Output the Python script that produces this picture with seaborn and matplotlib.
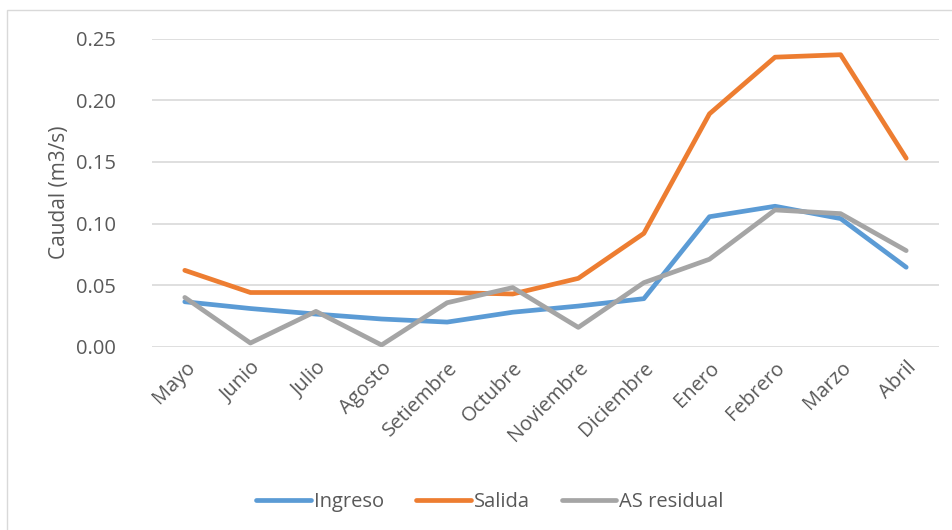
import pandas as pd
import seaborn as sns
import matplotlib.pyplot as plt
from matplotlib.patches import Rectangle

# meses del periodo
meses = ["Mayo", "Junio", "Julio", "Agosto", "Setiembre", "Octubre",
         "Noviembre", "Diciembre", "Enero", "Febrero", "Marzo", "Abril"]

# caudales (m3/s)
ingreso = [0.0365, 0.031, 0.0265, 0.0225, 0.020, 0.028,
           0.033, 0.039, 0.1055, 0.114, 0.104, 0.0645]
salida = [0.062, 0.044, 0.044, 0.044, 0.044, 0.0428,
          0.0555, 0.092, 0.189, 0.235, 0.237, 0.153]
as_residual = [0.040, 0.003, 0.0287, 0.0014, 0.0357, 0.048,
               0.0157, 0.052, 0.071, 0.111, 0.108, 0.078]

series = ["Ingreso", "Salida", "AS residual"]
colores = ["#5B9BD5", "#ED7D31", "#A5A5A5"]

# armando el dataframe en formato largo
myDF = pd.DataFrame({"Mes": meses * 3,
                     "Caudal": ingreso + salida + as_residual,
                     "Serie": [s for s in series for _ in meses]})
myDF["pos"] = list(range(len(meses))) * 3

sns.set_style("white")
plt.rcParams["font.family"] = ["Open Sans", "DejaVu Sans"]

fig = plt.figure(figsize=(9.53, 5.3), dpi=100)
ax = fig.add_axes([0.1595, 0.3458, 0.8258, 0.5812])

sns.lineplot(data=myDF, x="pos", y="Caudal", hue="Serie", hue_order=series,
             palette=colores, linewidth=3.4, ax=ax, legend=True)
for ln in ax.lines:
    ln.set_solid_capstyle("round")
    ln.set_solid_joinstyle("round")

ax.set_xlim(-0.5, len(meses) - 0.5)
ax.set_ylim(0, 0.25)
ax.set_yticks([0, 0.05, 0.10, 0.15, 0.20, 0.25])
ax.set_yticklabels([f"{v:.2f}" for v in [0, 0.05, 0.10, 0.15, 0.20, 0.25]])
ax.set_xticks(range(len(meses)))
ax.set_xticklabels(meses, rotation=45, ha="right", rotation_mode="anchor")
ax.tick_params(axis="both", length=0, labelsize=14.5, labelcolor="#595959")
ax.tick_params(axis="y", pad=26)
ax.tick_params(axis="x", pad=8)
ax.yaxis.grid(True, color="#D9D9D9", linewidth=1.2)
ax.set_axisbelow(True)
for s in ax.spines.values():
    s.set_visible(False)
ax.set_xlabel("")
ax.set_ylabel("Caudal (m3/s)", fontsize=15, color="#595959", labelpad=4)

leg = ax.legend(loc="center", bbox_to_anchor=(490 / 953, 1 - 502 / 530),
                bbox_transform=fig.transFigure, ncol=3, frameon=False,
                fontsize=14.5, handlelength=2.7, handletextpad=0.15,
                columnspacing=1.6)
for t in leg.get_texts():
    t.set_color("#595959")
for h in leg.get_lines():
    h.set_linewidth(3.4)
    h.set_solid_capstyle("round")

# borde del area del grafico
fig.patches.append(Rectangle((7 / 953, -0.1), 1.2, 1 - 10 / 530 + 0.1,
                             transform=fig.transFigure, fill=False,
                             edgecolor="#D9D9D9", linewidth=1))

fig.savefig("out.png", dpi=100)
